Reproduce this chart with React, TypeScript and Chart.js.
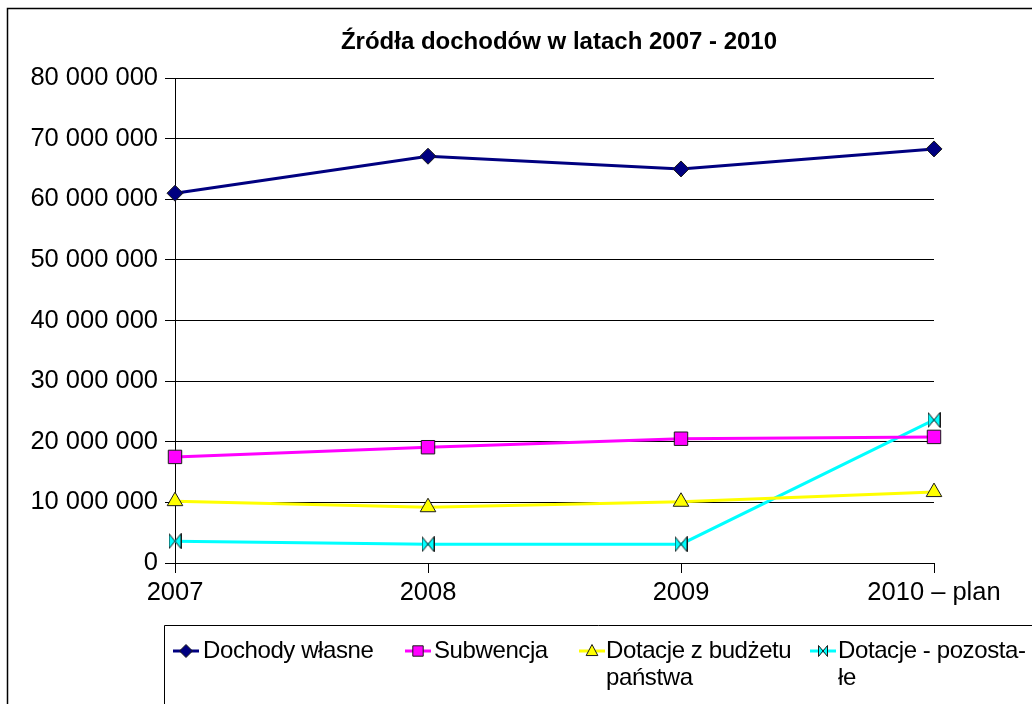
import React, { useEffect, useRef } from 'react';
import { Chart, registerables } from 'chart.js';

Chart.register(...registerables);

const chartTitle = 'Źródła dochodów w latach 2007 - 2010';
const categories = ['2007', '2008', '2009', '2010 – plan'];
const dochodyWlasne = [61000000, 67100000, 65000000, 68300000];
const subwencja = [17500000, 19100000, 20500000, 20800000];
const dotacjeBudzet = [10200000, 9200000, 10100000, 11700000];
const dotacjePozostale = [3600000, 3100000, 3100000, 23600000];
const seriesNames = ['Dochody własne', 'Subwencja', 'Dotacje z budżetu państwa', 'Dotacje - pozostałe'];
const legendLines = [['Dochody własne'], ['Subwencja'], ['Dotacje z budżetu', 'państwa'], ['Dotacje - pozosta-', 'łe']];
const yMin = 0;
const yMax = 80000000;
const yStep = 10000000;

const FONT = '"Liberation Sans", Arial, sans-serif';
const colors = ['#000080', '#FF00FF', '#FFFF00', '#00FFFF'];

function fmt(v: number): string {
  return String(Math.round(v)).replace(/\B(?=(\d{3})+(?!\d))/g, ' ');
}

function makeBowtie(w: number, h: number): HTMLCanvasElement {
  const c = document.createElement('canvas');
  c.width = w;
  c.height = h;
  const ctx = c.getContext('2d')!;
  ctx.fillStyle = '#00FFFF';
  ctx.strokeStyle = '#1a1a1a';
  ctx.lineWidth = 1;
  ctx.beginPath();
  ctx.moveTo(0.5, 0.5);
  ctx.lineTo(w / 2, h / 2);
  ctx.lineTo(0.5, h - 0.5);
  ctx.closePath();
  ctx.moveTo(w - 0.5, 0.5);
  ctx.lineTo(w / 2, h / 2);
  ctx.lineTo(w - 0.5, h - 0.5);
  ctx.closePath();
  ctx.fill();
  ctx.stroke();
  return c;
}

function drawMarker(ctx: CanvasRenderingContext2D, kind: number, x: number, y: number, s: number, bow: HTMLCanvasElement) {
  ctx.save();
  ctx.fillStyle = colors[kind];
  ctx.strokeStyle = '#1a1a1a';
  ctx.lineWidth = 1;
  ctx.beginPath();
  if (kind === 0) {
    ctx.moveTo(x, y - s);
    ctx.lineTo(x + s, y);
    ctx.lineTo(x, y + s);
    ctx.lineTo(x - s, y);
    ctx.closePath();
    ctx.fill();
    ctx.stroke();
  } else if (kind === 1) {
    ctx.rect(x - s * 0.8, y - s * 0.8, s * 1.6, s * 1.6);
    ctx.fill();
    ctx.stroke();
  } else if (kind === 2) {
    ctx.moveTo(x, y - s);
    ctx.lineTo(x + s * 0.9, y + s * 0.7);
    ctx.lineTo(x - s * 0.9, y + s * 0.7);
    ctx.closePath();
    ctx.fill();
    ctx.stroke();
  } else {
    ctx.drawImage(bow, x - bow.width / 2, y - bow.height / 2);
  }
  ctx.restore();
}

export default function App() {
  const ref = useRef<HTMLCanvasElement | null>(null);

  useEffect(() => {
    document.body.style.margin = '0';
    document.body.style.overflow = 'hidden';
    const canvas = ref.current;
    if (!canvas) return;
    const bowBig = makeBowtie(13, 16);
    const bowSmall = makeBowtie(10, 12);

    const decor = {
      id: 'decor',
      afterDraw(chart: any) {
        const ctx = chart.ctx as CanvasRenderingContext2D;
        ctx.save();
        // outer frame
        ctx.strokeStyle = '#000';
        ctx.lineWidth = 1.5;
        ctx.beginPath();
        ctx.moveTo(7.5, 710);
        ctx.lineTo(7.5, 8.5);
        ctx.lineTo(1040, 8.5);
        ctx.stroke();
        // title
        ctx.fillStyle = '#000';
        ctx.font = `bold 24px ${FONT}`;
        ctx.textAlign = 'center';
        ctx.textBaseline = 'middle';
        ctx.fillText(chartTitle, 559, 42);
        // legend box
        ctx.lineWidth = 1;
        ctx.beginPath();
        ctx.moveTo(164.5, 710);
        ctx.lineTo(164.5, 625.5);
        ctx.lineTo(1040, 625.5);
        ctx.stroke();
        const itemX = [186, 418, 592, 823];
        const textX = [203, 434, 606, 838];
        const rowY = [651, 678];
        ctx.font = `24px ${FONT}`;
        (ctx as any).letterSpacing = '-0.4px';
        ctx.textAlign = 'left';
        ctx.textBaseline = 'middle';
        for (let i = 0; i < legendLines.length; i++) {
          ctx.strokeStyle = colors[i];
          ctx.lineWidth = 3;
          ctx.beginPath();
          ctx.moveTo(itemX[i] - 13, rowY[0]);
          ctx.lineTo(itemX[i] + 13, rowY[0]);
          ctx.stroke();
          drawMarker(ctx, i, itemX[i], rowY[0], 6.5, bowSmall);
          ctx.fillStyle = '#000';
          legendLines[i].forEach((t, j) => ctx.fillText(t, textX[i], rowY[j]));
        }
        ctx.restore();
      },
    };

    const common = { borderWidth: 3, pointBorderColor: '#1a1a1a', pointBorderWidth: 1, clip: false as any, tension: 0, fill: false };

    const chart = new Chart(canvas, {
      type: 'line',
      data: {
        labels: categories,
        datasets: [
          { ...common, label: seriesNames[0], data: dochodyWlasne, borderColor: colors[0], pointBackgroundColor: colors[0], pointStyle: 'rectRot', pointRadius: 8 },
          { ...common, label: seriesNames[1], data: subwencja, borderColor: colors[1], pointBackgroundColor: colors[1], pointStyle: 'rect', pointRadius: 9.5 },
          { ...common, label: seriesNames[2], data: dotacjeBudzet, borderColor: colors[2], pointBackgroundColor: colors[2], pointStyle: 'triangle', pointRadius: 9 },
          { ...common, label: seriesNames[3], data: dotacjePozostale, borderColor: colors[3], pointBackgroundColor: colors[3], pointStyle: bowBig as any, pointRadius: 8 },
        ],
      },
      options: {
        animation: false,
        responsive: false,
        maintainAspectRatio: false,
        layout: { padding: { top: 78, right: 98, bottom: 81, left: 0 } },
        plugins: { legend: { display: false }, title: { display: false }, tooltip: { enabled: false } },
        scales: {
          x: {
            type: 'category',
            offset: false,
            grid: { display: true, drawOnChartArea: false, drawTicks: true, tickLength: 10, color: '#000' },
            border: { display: true, color: '#000', width: 1 },
            ticks: { color: '#000', font: { family: FONT, size: 25.5 }, padding: 5, maxRotation: 0, autoSkip: false },
            afterFit: (s: any) => { s.height = 60; },
          },
          y: {
            min: yMin,
            max: yMax,
            grid: { color: '#000', tickLength: 10, lineWidth: 1 },
            border: { display: true, color: '#000', width: 1 },
            ticks: { stepSize: yStep, color: '#000', font: { family: FONT, size: 25.5 }, padding: 7, callback: (v: any) => fmt(Number(v)) },
            afterFit: (s: any) => { s.width = 175; },
          },
        },
      },
      plugins: [decor],
    });
    return () => chart.destroy();
  }, []);

  return <canvas ref={ref} width={1032} height={704} style={{ display: 'block', width: 1032, height: 704 }} />;
}
